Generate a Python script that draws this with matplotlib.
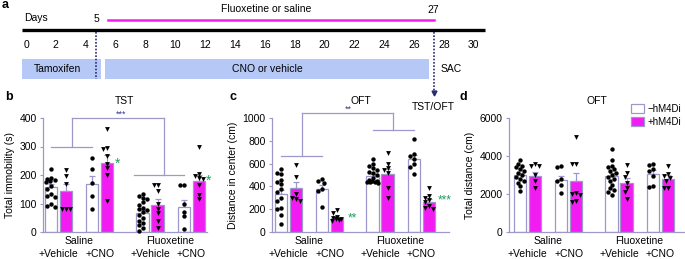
import matplotlib.pyplot as plt
from matplotlib.patches import Patch
import numpy as np

plt.rcParams['font.family'] = ['Liberation Sans', 'DejaVu Sans']
plt.rcParams['font.size'] = 7.5

MAGENTA = '#f21cf2'
EDGE = '#9c98c9'
BOX = '#b5c8f6'
GREEN = '#1e9e5e'
NAVY = '#3a3a8a'

# panel a: timeline (days)
day_ticks = list(range(0, 31, 2))
tamoxifen_days = (-0.3, 5)
cno_days = (5.3, 27)
fluox_days = (5.5, 27.3)

# panels b-d
groups = ['+Vehicle', '+CNO', '+Vehicle', '+CNO']
treatments = ['Saline', 'Fluoxetine']
legend_labels = ['\u2212hM4Di', '+hM4Di']

tst_means = [157, 145, 170, 243, 68, 93, 88, 180]
tst_sems = [12, 22, 27, 27, 10, 22, 24, 20]
tst_points = [
    [222, 190, 186, 184, 180, 176, 160, 150, 133, 128, 122, 100, 92, 88],
    [217, 197, 170, 80, 80, 80],
    [260, 222, 172, 128, 82],
    [360, 295, 290, 265, 240, 225, 200, 110],
    [135, 128, 120, 115, 105, 95, 85, 80, 78, 70, 60, 50, 40, 30, 25, 15, 5],
    [165, 165, 145, 100, 80, 65, 40, 15],
    [165, 165, 100, 70, 55, 10],
    [300, 205, 195, 190, 185, 165, 130, 115],
]

center_means = [330, 385, 378, 125, 490, 512, 640, 262]
center_sems = [40, 50, 35, 10, 15, 45, 35, 25]
center_points = [
    [550, 520, 510, 460, 440, 420, 380, 350, 300, 270, 210, 200, 150, 70],
    [590, 480, 330, 300, 290, 270],
    [465, 450, 430, 380, 360, 220],
    [195, 165, 130, 120, 115, 110, 105, 100],
    [640, 600, 580, 560, 545, 530, 520, 500, 470, 460, 450, 445, 440, 440, 435, 430],
    [690, 600, 560, 540, 520, 390, 300],
    [820, 680, 670, 640, 600, 570, 510],
    [390, 320, 300, 280, 260, 230, 210, 200],
]

dist_means = [3000, 2950, 2750, 2680, 2970, 2600, 3050, 2800]
dist_sems = [120, 230, 200, 430, 150, 250, 200, 180]
dist_points = [
    [3800, 3600, 3500, 3400, 3300, 3200, 3100, 3000, 2900, 2800, 2700, 2600, 2400, 2150],
    [3600, 3500, 3500, 3000, 2700, 2300],
    [3500, 3400, 2800, 2700, 2500, 2050],
    [5000, 3600, 3600, 2050, 2000, 1950, 1650, 1600],
    [4350, 3800, 3500, 3400, 3300, 3200, 3100, 3000, 2900, 2800, 2700, 2500, 2300, 2200, 2100, 1950],
    [3550, 3100, 2900, 2600, 2300, 2100, 1750],
    [3600, 3550, 3300, 3200, 2950, 2400, 2350],
    [3450, 3050, 2950, 2850, 2700, 2300, 2300],
]

pos = [0, 1, 2.75, 3.75, 6.1, 7.1, 8.85, 9.85]

W, H = 685, 259
fig = plt.figure(figsize=(W / 100, H / 100), dpi=100)


def swarm(vals, center, px_per_y, size=4.0):
    # small beeswarm in pixel space (15 px per x unit), kept inside the bar
    steps = [0, -2, 2, -4, 4, -5.5, 5.5, -1, 1, -3, 3]
    placed = []
    xs = []
    for v in vals:
        y = v * px_per_y
        best, best_d = 0, -1
        for st in steps:
            d = min([np.hypot(st - px, y - py) for px, py in placed] or [99])
            if d >= size:
                best = st
                break
            if d > best_d:
                best, best_d = st, d
        placed.append((best, y))
        xs.append(center + best / 15)
    return xs


# ---- panel a ----
axa = fig.add_axes([0, 1 - 112 / H, 1, 112 / H])
axa.set_xlim((0 - 26) / 14.93, (W - 26) / 14.93)
axa.set_ylim(112, 0)
axa.axis('off')
axa.plot([-0.3, 30.75], [30, 30], color='black', lw=2.4, solid_capstyle='butt')
for d in day_ticks:
    axa.text(d, 45, str(d), ha='center', va='center', fontsize=7.5)
axa.plot(fluox_days, [20, 20], color=MAGENTA, lw=1.8)
axa.text(16.1, 9, 'Fluoxetine or saline', ha='center', va='center', fontsize=7.5)
axa.text(27.3, 10, '27', ha='center', va='center', fontsize=7.5)
axa.text(4.7, 19, '5', ha='center', va='center', fontsize=7.5)
axa.text(-0.1, 18, 'Days', ha='left', va='center', fontsize=7.5)
axa.fill_between(tamoxifen_days, 59, 79, color=BOX, lw=0)
axa.fill_between(cno_days, 59, 79, color=BOX, lw=0)
axa.text(2.1, 69, 'Tamoxifen', ha='center', va='center', fontsize=7.5)
axa.text(16.2, 69, 'CNO or vehicle', ha='center', va='center', fontsize=7.5)
axa.plot([4.7, 4.7], [32, 79], color='#2a2a70', lw=1.2, ls=(0, (1, 1)))
axa.plot([27.3, 27.3], [32, 91], color='#2a2a70', lw=1.2, ls=(0, (1, 1)))
axa.plot([27.3], [93], marker='v', color='#2a2a70', ms=3.5)
axa.text(27.75, 69, 'SAC', ha='left', va='center', fontsize=7.5)
axa.text(27.3, 107, 'TST/OFT', ha='center', va='center', fontsize=7.5)
fig.text(2 / W, 1 - 5 / H, 'a', fontsize=9, fontweight='bold', va='center')


def panel(left_px, right_px, first_px, means, sems, points, ymax, yticks, ylabel, title):
    ax = fig.add_axes([left_px / W, 1 - 232 / H, (right_px - left_px) / W, 114 / H])
    ax.set_xlim((left_px - first_px) / 15, (right_px - first_px) / 15)
    ax.set_ylim(0, ymax)
    colors = ['white', MAGENTA] * 4
    ax.bar(pos, means, width=0.82, color=colors, edgecolor=EDGE, linewidth=0.9, zorder=2)
    ax.errorbar(pos, means, yerr=[np.zeros(8), sems], fmt='none', ecolor=EDGE,
                elinewidth=0.9, capsize=2.5, capthick=0.9, zorder=1)
    px_per_y = 114 / ymax
    for i, vals in enumerate(points):
        xs = swarm(vals, pos[i], px_per_y)
        mk = 'o' if i % 2 == 0 else 'v'
        ax.scatter(xs, vals, marker=mk, s=10 if mk == 'o' else 12, color='black',
                   linewidths=0, zorder=3, clip_on=False)
    for s in ['top', 'right']:
        ax.spines[s].set_visible(False)
    for s in ['left', 'bottom']:
        ax.spines[s].set_color(EDGE)
        ax.spines[s].set_linewidth(0.9)
    ax.set_yticks(yticks)
    ax.tick_params(axis='y', length=2.5, width=0.8, color=EDGE, pad=2, labelsize=7.5)
    ax.set_xticks([])
    ax.set_ylabel(ylabel, fontsize=7.5, labelpad=3)
    ax.set_title(title, fontsize=7.5, pad=10)
    for j, g in enumerate(groups):
        cx = (pos[2 * j] + pos[2 * j + 1]) / 2
        ax.text(cx, -0.19, g, transform=ax.get_xaxis_transform(), ha='center', va='center', fontsize=7.5)
    for j, t in enumerate(treatments):
        cx = (pos[4 * j] + pos[4 * j + 3]) / 2
        ax.text(cx, -0.08, t, transform=ax.get_xaxis_transform(), ha='center', va='center', fontsize=7.5)
    return ax


def bracket(ax, x0, x1, y, top, xm=None):
    xm = (x0 + x1) / 2 if xm is None else xm
    ax.plot([x0, x1], [y, y], color=EDGE, lw=0.9, clip_on=False, zorder=4)
    ax.plot([xm, xm], [y, top], color=EDGE, lw=0.9, clip_on=False, zorder=4)
    return xm


# ---- panel b ----
axb = panel(43, 207, 51, tst_means, tst_sems, tst_points, 400, [0, 100, 200, 300, 400],
            'Total immobility (s)', 'TST')
m1 = bracket(axb, 0, 2.75, 300, 400)
m2 = bracket(axb, 5.55, 8.85, 200, 400, xm=7.5)
axb.plot([m1, m2], [400, 400], color=EDGE, lw=0.9, clip_on=False)
axb.text(4.7, 398, '***', color=NAVY, ha='center', va='bottom', fontsize=6.5)
axb.text(4.45, 238, '*', color=GREEN, ha='center', va='center', fontsize=10)
axb.text(10.5, 180, '*', color=GREEN, ha='center', va='center', fontsize=10)
fig.text(5 / W, 1 - 97 / H, 'b', fontsize=9, fontweight='bold', va='center')

# ---- panel c ----
axc = panel(272, 449, 281, center_means, center_sems, center_points, 1000,
            [0, 200, 400, 600, 800, 1000], 'Distance in center (cm)', 'OFT')
m1 = bracket(axc, 0, 2.75, 665, 1040)
m2 = bracket(axc, 6.1, 8.85, 895, 1040, xm=7.45)
axc.plot([m1, m2], [1040, 1040], color=EDGE, lw=0.9, clip_on=False)
axc.text(4.47, 1035, '**', color=NAVY, ha='center', va='bottom', fontsize=6.5)
axc.text(4.75, 122, '**', color=GREEN, ha='center', va='center', fontsize=8.5)
axc.text(10.9, 280, '***', color=GREEN, ha='center', va='center', fontsize=8.5)
fig.text(229 / W, 1 - 97 / H, 'c', fontsize=9, fontweight='bold', va='center')

# ---- panel d ----
axd = panel(509, 685, 520, dist_means, dist_sems, dist_points, 6000,
            [0, 2000, 4000, 6000], 'Total distance (cm)', 'OFT')
handles = [Patch(facecolor='white', edgecolor=EDGE, lw=0.9),
           Patch(facecolor=MAGENTA, edgecolor=EDGE, lw=0.9)]
axd.legend(handles, legend_labels, loc='upper right', bbox_to_anchor=(1.0, 1.16),
           frameon=False, fontsize=7, handlelength=1.3, handleheight=1.1,
           handletextpad=0.4, labelspacing=0.35, borderaxespad=0)
fig.text(459 / W, 1 - 97 / H, 'd', fontsize=9, fontweight='bold', va='center')

fig.savefig('out.png', dpi=100)
